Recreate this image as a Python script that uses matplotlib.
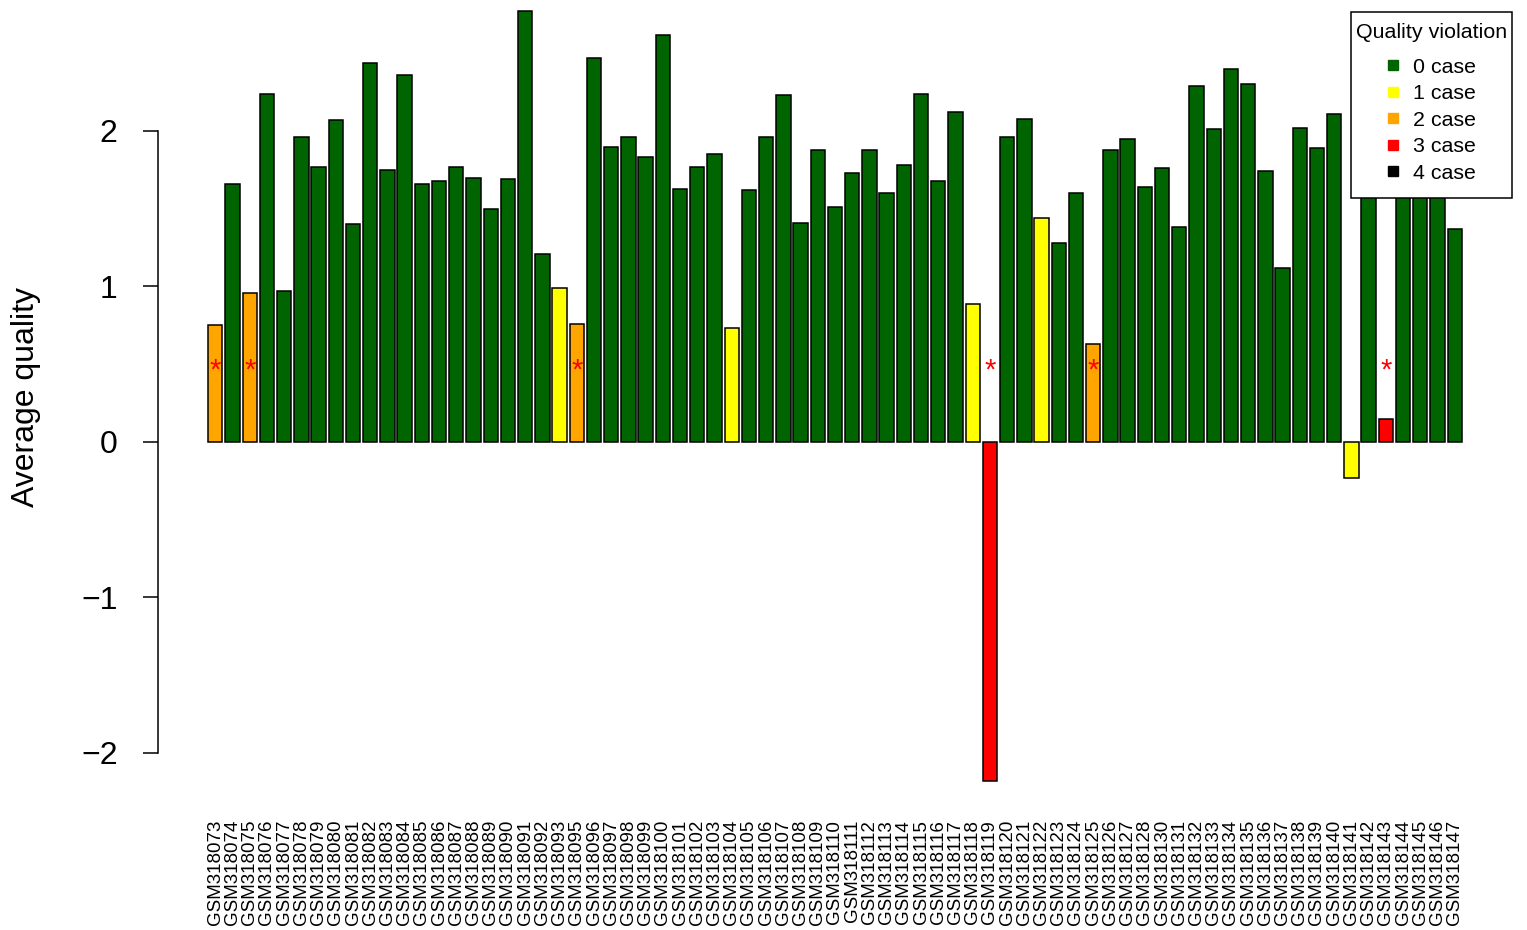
import matplotlib
matplotlib.use('Agg')
import matplotlib.pyplot as plt
import matplotlib.transforms as mtransforms
from matplotlib.lines import Line2D
from matplotlib.offsetbox import VPacker, DrawingArea
import numpy as np

plt.rcParams['font.family'] = ['Liberation Sans', 'DejaVu Sans']

samples = [
    'GSM318073', 'GSM318074', 'GSM318075', 'GSM318076', 'GSM318077', 'GSM318078',
    'GSM318079', 'GSM318080', 'GSM318081', 'GSM318082', 'GSM318083', 'GSM318084',
    'GSM318085', 'GSM318086', 'GSM318087', 'GSM318088', 'GSM318089', 'GSM318090',
    'GSM318091', 'GSM318092', 'GSM318093', 'GSM318095', 'GSM318096', 'GSM318097',
    'GSM318098', 'GSM318099', 'GSM318100', 'GSM318101', 'GSM318102', 'GSM318103',
    'GSM318104', 'GSM318105', 'GSM318106', 'GSM318107', 'GSM318108', 'GSM318109',
    'GSM318110', 'GSM318111', 'GSM318112', 'GSM318113', 'GSM318114', 'GSM318115',
    'GSM318116', 'GSM318117', 'GSM318118', 'GSM318119', 'GSM318120', 'GSM318121',
    'GSM318122', 'GSM318123', 'GSM318124', 'GSM318125', 'GSM318126', 'GSM318127',
    'GSM318128', 'GSM318130', 'GSM318131', 'GSM318132', 'GSM318133', 'GSM318134',
    'GSM318135', 'GSM318136', 'GSM318137', 'GSM318138', 'GSM318139', 'GSM318140',
    'GSM318141', 'GSM318142', 'GSM318143', 'GSM318144', 'GSM318145', 'GSM318146',
    'GSM318147',
]

quality = [
    0.75, 1.66, 0.96, 2.24, 0.97, 1.96, 1.77, 2.07, 1.40, 2.44, 1.75, 2.36,
    1.66, 1.68, 1.77, 1.70, 1.50, 1.69, 2.77, 1.21, 0.99, 0.76, 2.47, 1.90,
    1.96, 1.83, 2.62, 1.63, 1.77, 1.85, 0.73, 1.62, 1.96, 2.23, 1.41, 1.88,
    1.51, 1.73, 1.88, 1.60, 1.78, 2.24, 1.68, 2.12, 0.89, -2.18, 1.96, 2.08,
    1.44, 1.28, 1.60, 0.63, 1.88, 1.95, 1.64, 1.76, 1.38, 2.29, 2.01, 2.40,
    2.30, 1.74, 1.12, 2.02, 1.89, 2.11, -0.23, 1.95, 0.15, 2.05, 1.85, 1.90,
    1.37,
]

violations = [
    2, 0, 2, 0, 0, 0, 0, 0, 0, 0, 0, 0,
    0, 0, 0, 0, 0, 0, 0, 0, 1, 2, 0, 0,
    0, 0, 0, 0, 0, 0, 1, 0, 0, 0, 0, 0,
    0, 0, 0, 0, 0, 0, 0, 0, 1, 3, 0, 0,
    1, 0, 0, 2, 0, 0, 0, 0, 0, 0, 0, 0,
    0, 0, 0, 0, 0, 0, 1, 0, 3, 0, 0, 0,
    0,
]

case_labels = ['0 case', '1 case', '2 case', '3 case', '4 case']
case_colors = ['#006400', '#FFFF00', '#FFA500', '#FF0000', '#000000']

W, H = 1527, 930
fig = plt.figure(figsize=(W / 100, H / 100), dpi=100)
left, right, top, bottom = 158, 1512, 12, 790
ax = fig.add_axes([left / W, (H - bottom) / H, (right - left) / W, (bottom - top) / H])

n = len(samples)
x = 0.7 + 1.2 * np.arange(n)
colors = [case_colors[v] for v in violations]
ax.bar(x, quality, width=1.0, color=colors, edgecolor='black', linewidth=1.1,
       clip_on=False, zorder=2)

# asterisks for samples with >= 2 violations
off = mtransforms.offset_copy(ax.transData, fig=fig, x=0, y=-6, units='dots')
for xi, v in zip(x, violations):
    if v >= 2:
        ax.text(xi, 0.5, '*', color='red', fontsize=21, ha='center', va='center',
                transform=off, zorder=3)

span = x[-1] + 0.5 - (x[0] - 0.5)
ax.set_xlim(x[0] - 0.5 - 0.04 * span, x[-1] + 0.5 + 0.04 * span)
ax.set_ylim(-2.238, 2.765)

ax.set_xticks(x)
ax.set_xticklabels(samples, rotation=90, fontsize=13.5)
ax.tick_params(axis='x', length=0, pad=21.5)
ax.set_yticks([-2, -1, 0, 1, 2])
ax.set_yticklabels(['\u22122', '\u22121', '0', '1', '2'])
ax.tick_params(axis='y', labelsize=23, length=11, width=1.1, pad=18, direction='out')

for s in ['top', 'right', 'bottom']:
    ax.spines[s].set_visible(False)
ax.spines['left'].set_bounds(-2, 2)
ax.spines['left'].set_linewidth(1.1)

ax.set_ylabel('Average quality', fontsize=23)
ax.yaxis.set_label_coords(-0.0866, 0.505)

handles = [Line2D([0], [0], marker='s', linestyle='none', markersize=7.9,
                  markerfacecolor=c, markeredgecolor=c) for c in case_colors]
leg = ax.legend(handles, case_labels, title='Quality violation', loc='upper right',
                bbox_to_anchor=(1.0, 1.0), borderaxespad=0, fontsize=15.4,
                title_fontsize=15.4, frameon=True, fancybox=False, framealpha=1,
                edgecolor='black', handlelength=0.55, handletextpad=0.62,
                labelspacing=0.35, borderpad=0.23)
lb = leg._legend_box
title_box, handle_box = lb.get_children()
lb._children = [VPacker(pad=0, sep=0, children=[DrawingArea(1, 4.3), title_box]),
                VPacker(pad=0, sep=0, children=[handle_box, DrawingArea(1, 7.2)])]
lb.sep = 11.5
leg.get_frame().set_linewidth(1.1)
leg.set_zorder(5)

fig.savefig('out.png', dpi=100, facecolor='white')
